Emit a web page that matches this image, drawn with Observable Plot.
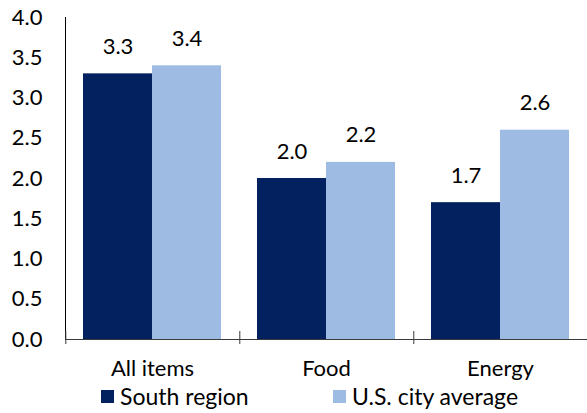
<!DOCTYPE html>
<html>
<head>
<meta charset="utf-8">
<script src="https://cdn.jsdelivr.net/npm/d3@7"></script>
<script src="https://cdn.jsdelivr.net/npm/@observablehq/plot@0.6"></script>
<style>
  html, body { margin: 0; padding: 0; background: #fff; }
  #chart { width: 587px; }
  .legend { position: relative; width: 587px; height: 30px; font-family: Lato, sans-serif; font-size: 23px; color: #000; }
  .legend .item { position: absolute; top: -2px; height: 30px; display: flex; align-items: center; white-space: nowrap; }
  .legend .sw { width: 13px; height: 13px; margin-right: 6px; display: inline-block; }
</style>
</head>
<body>
<div id="chart"></div>
<script>
// ---- data ----
const categories = ["All items", "Food", "Energy"];
const series = ["South region", "U.S. city average"];
const southValues = [3.3, 2.0, 1.7];
const usValues = [3.4, 2.2, 2.6];
const yTicks = [0, 0.5, 1.0, 1.5, 2.0, 2.5, 3.0, 3.5, 4.0];
const colors = ["#03215f", "#9dbbe3"];

const rows = categories.flatMap((c, i) => [
  {cat: c, series: series[0], value: southValues[i]},
  {cat: c, series: series[1], value: usValues[i]}
]);

const W = 587, H = 383, ML = 65, MR = 0, MT = 17, MB = 44;
const facetW = (W - ML - MR) / categories.length;
const pOuter = 0.25;
const step = facetW / (series.length + 2 * pOuter);
const tickDx = -(pOuter * step + step / 2);
const axisColor = "#3a3a3a";
const fmt = d3.format(".1f");

const chart = Plot.plot({
  width: W, height: H,
  marginLeft: ML, marginRight: MR, marginTop: MT, marginBottom: MB,
  style: {fontFamily: "Lato, sans-serif", fontSize: "22px", color: "#000", background: "#fff", overflow: "visible"},
  facet: {data: rows, x: "cat"},
  fx: {domain: categories, padding: 0, axis: "bottom", tickSize: 0, tickPadding: 21, label: null},
  x: {domain: series, paddingInner: 0, paddingOuter: pOuter, axis: null},
  y: {domain: [0, 4], ticks: yTicks, tickFormat: fmt, tickSize: 0, tickPadding: 23, label: null, line: true},
  color: {domain: series, range: colors},
  marks: [
    Plot.barY(rows, {x: "series", y: "value", fill: "series"}),
    Plot.text(rows, {x: "series", y: "value", text: d => fmt(d.value), dy: -27, fill: "#000"}),
    Plot.ruleY([0], {stroke: axisColor}),
    Plot.ruleX([series[0]], {x: d => d, y1: () => 0, y2: () => 0, insetTop: -8, insetBottom: -5, dx: tickDx, stroke: axisColor})
  ]
});
document.getElementById("chart").appendChild(chart);

// legend
const legend = document.createElement("div");
legend.className = "legend";
const lefts = [101, 333];
series.forEach((s, i) => {
  const item = document.createElement("div");
  item.className = "item";
  item.style.left = lefts[i] + "px";
  const sw = document.createElement("span");
  sw.className = "sw";
  sw.style.background = colors[i];
  const t = document.createElement("span");
  t.textContent = s;
  item.appendChild(sw);
  item.appendChild(t);
  legend.appendChild(item);
});
document.getElementById("chart").appendChild(legend);
</script>
</body>
</html>
